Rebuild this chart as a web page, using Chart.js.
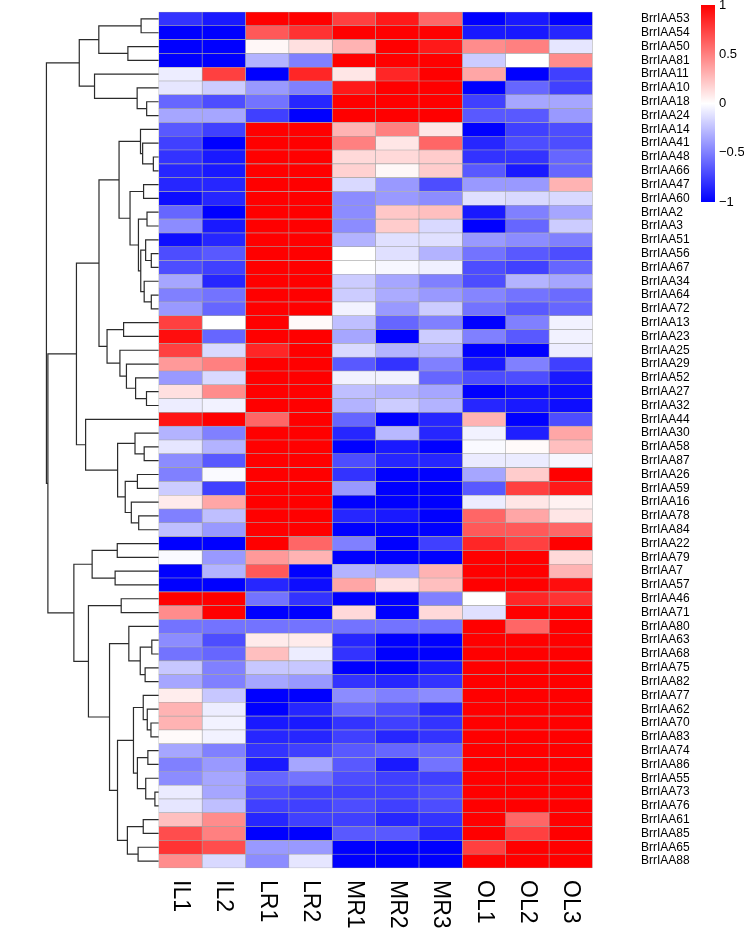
<!DOCTYPE html>
<html lang="en">
<head>
<meta charset="UTF-8">
<title>BrrIAA expression heatmap</title>
<script src="https://cdn.jsdelivr.net/npm/chart.js@4"></script>
<style>
    body { margin: 0; background: #fff; }
    #wrap { position: relative; width: 744px; height: 933px; overflow: hidden; }
    #heat { position: absolute; left: 0; top: 0; }
    #scale { position: absolute; left: 701px; top: 0; }
</style>
</head>
<body>
<div id="wrap">
    <canvas id="heat" width="700" height="933"></canvas>
    <canvas id="scale" width="43" height="215"></canvas>
</div>
<script>
// row labels, top to bottom (dendrogram order)
const genes = ['BrrIAA53','BrrIAA54','BrrIAA50','BrrIAA81','BrrIAA11','BrrIAA10','BrrIAA18','BrrIAA24',
    'BrrIAA14','BrrIAA41','BrrIAA48','BrrIAA66','BrrIAA47','BrrIAA60','BrrIAA2','BrrIAA3','BrrIAA51',
    'BrrIAA56','BrrIAA67','BrrIAA34','BrrIAA64','BrrIAA72','BrrIAA13','BrrIAA23','BrrIAA25','BrrIAA29',
    'BrrIAA52','BrrIAA27','BrrIAA32','BrrIAA44','BrrIAA30','BrrIAA58','BrrIAA87','BrrIAA26','BrrIAA59',
    'BrrIAA16','BrrIAA78','BrrIAA84','BrrIAA22','BrrIAA79','BrrIAA7','BrrIAA57','BrrIAA46','BrrIAA71',
    'BrrIAA80','BrrIAA63','BrrIAA68','BrrIAA75','BrrIAA82','BrrIAA77','BrrIAA62','BrrIAA70','BrrIAA83',
    'BrrIAA74','BrrIAA86','BrrIAA55','BrrIAA73','BrrIAA76','BrrIAA61','BrrIAA85','BrrIAA65','BrrIAA88'];

const samples = ['IL1', 'IL2', 'LR1', 'LR2', 'MR1', 'MR2', 'MR3', 'OL1', 'OL2', 'OL3'];

// scaled expression, one array per sample (same order as genes)
const IL1 = [-0.8,-1,-1,-1,-0.07,-0.1,-0.6,-0.35,-0.65,-0.75, -0.8,-0.85,-0.85,-0.95,-0.6,-0.45,-0.95,-0.7,-0.7,-0.35,
    -0.5,-0.4,0.75,0.95,0.75,0.4,-0.4,0.12,-0.07,0.92, -0.3,-0.1,-0.45,-0.5,-0.2,0.08,-0.5,-0.25,-1,-0.02,
    -1,-1,1,0.45,-0.55,-0.45,-0.55,-0.22,-0.35,0.07, 0.3,0.3,0.02,-0.35,-0.5,-0.45,-0.08,-0.1,0.25,0.7, 0.8,0.45];
const IL2 = [-0.9,-1,-1,-1,0.75,-0.2,-0.7,-0.35,-0.75,-1, -0.9,-0.9,-0.85,-0.85,-1,-0.9,-0.85,-0.65,-0.75,-0.85,
    -0.55,-0.6,0,-0.6,-0.15,0.5,-0.15,0.45,-0.05,1, -0.5,-0.3,-0.65,-0.02,-0.75,0.35,-0.25,-0.4,-1,-0.4,
    -0.3,-1,1,1,-0.55,-0.7,-0.6,-0.5,-0.5,-0.22, -0.07,-0.05,-0.05,-0.5,-0.4,-0.35,-0.35,-0.25,0.45,0.5, 0.7,-0.15];
const LR1 = [1,0.65,0.03,-0.3,-1,-0.4,-0.55,-0.75,1,1, 1,1,1,1,1,1,1,1,1,1,
    1,1,1,1,0.85,1,1,1,1,0.6, 1,1,1,1,1,1,1,1,1,0.4,
    0.65,-0.85,-0.55,-1,-0.55,0.08,0.25,-0.22,-0.35,-1, -1,-0.9,-0.85,-0.8,-0.9,-0.6,-0.7,-0.75,-0.85,-1, -0.4,-0.45];
const LR2 = [1,0.8,0.12,-0.5,0.85,-0.5,-0.85,-1,1,1, 1,1,1,1,1,1,1,1,1,1,
    1,1,0.02,1,1,1,1,1,1,1, 1,1,1,1,1,1,1,1,0.6,0.3,
    -1,-0.95,-0.8,-1,-0.55,0.08,-0.07,-0.22,-0.4,-1, -0.85,-0.9,-0.85,-0.75,-0.35,-0.55,-0.75,-0.75,-0.75,-1, -0.4,-0.1];
const MR1 = [0.75,1,0.3,1,0.1,0.9,1,1,0.3,0.5, 0.15,0.18,-0.15,-0.45,-0.45,-0.45,-0.3,0,0,-0.2,
    -0.2,-0.05,-0.25,-0.35,-0.15,-0.65,-0.05,-0.25,-0.3,-0.6, -0.85,-1,-0.7,-0.8,-0.4,-1,-0.85,-1,-0.5,-1,
    -0.3,0.35,-1,0.15,-0.55,-0.85,-0.8,-1,-0.8,-0.45, -0.6,-0.8,-0.75,-0.65,-0.65,-0.7,-0.75,-0.7,-0.75,-0.65, -1,-1];
const MR2 = [0.9,1,1,1,0.85,1,1,1,0.5,0.1, 0.15,0.03,-0.4,-0.4,0.22,0.2,-0.12,-0.12,-0.03,-0.35,
    -0.33,-0.4,-0.6,-1,-0.3,-0.8,-0.05,-0.3,-0.2,-1, -0.28,-0.9,-0.85,-1,-1,-1,-0.9,-1,-1,-1,
    -0.35,0.12,-1,-1,-0.55,-1,-1,-1,-0.85,-0.5, -0.7,-0.75,-0.85,-0.6,-0.9,-0.75,-0.75,-0.75,-0.85,-0.65, -1,-1];
const MR3 = [0.6,1,0.9,1,1,1,1,1,0.1,0.6, 0.2,0.2,-0.7,-0.45,0.25,-0.15,-0.12,-0.3,-0.06,-0.5,
    -0.4,-0.2,-0.5,-0.2,-0.3,-0.5,-0.6,-0.35,-0.3,-0.85, -0.85,-1,-0.85,-1,-1,-1,-1,-1,-0.75,-1,
    0.3,0.25,-0.5,0.15,-0.55,-1,-1,-0.9,-0.8,-0.45, -0.85,-0.8,-0.8,-0.6,-0.55,-0.75,-0.7,-0.7,-0.8,-0.85, -1,-1];
const OL1 = [-1,-0.9,0.45,-0.2,0.35,-1,-0.75,-0.65,-1,-0.85, -0.8,-0.65,-0.4,-0.12,-0.9,-1,-0.4,-0.55,-0.7,-0.7,
    -0.48,-0.55,-1,-0.5,-1,-0.9,-0.7,-1,-0.85,0.3, -0.05,-0.02,-0.08,-0.35,-0.65,-0.07,0.6,0.65,0.85,1,
    1,1,0,-0.12,1,1,1,1,1,1, 1,1,1,1,1,1,1,1,1,1, 0.75,1];
const OL2 = [-0.9,-0.9,0.5,0,-1,-0.6,-0.35,-0.65,-0.75,-0.7, -0.8,-0.9,-0.4,-0.15,-0.5,-0.6,-0.45,-0.65,-0.75,-0.3,
    -0.55,-0.65,-0.5,-0.65,-1,-0.5,-0.7,-0.95,-0.9,-1, -0.88,0.02,-0.08,0.2,0.75,0.1,0.35,0.65,0.75,1,
    1,1,0.85,1,0.6,1,1,1,1,1, 1,1,1,1,1,1,1,1,0.6,0.75, 1,1];
const OL3 = [-1,-0.85,-0.1,0.45,-0.75,-0.75,-0.35,-0.4,-0.7,-0.7, -0.6,-0.6,0.3,-0.15,-0.35,-0.2,-0.5,-0.7,-0.6,-0.35,
    -0.58,-0.6,-0.05,-0.05,-0.07,-0.75,-0.9,-0.95,-0.95,-0.7, 0.35,0.25,-0.03,1,0.9,0.05,0.1,0.6,1,0.15,
    0.3,0.95,0.8,1,1,1,1,1,1,1, 1,1,1,1,1,1,1,1,1,1, 1,1];

const legendTicks = [1, 0.5, 0, -0.5, -1];

// row clustering: [left, right, height]; numbers are rows, 'mK' is the K-th merge
const merges = [
    [0, 1, 2.06], [2, 3, 3.6], ['m0', 'm1', 6.99], [6, 7, 1.41], [5, 'm3', 2.52],
    [4, 'm4', 7.49], ['m2', 'm5', 9.27], [10, 11, 0.63], [9, 'm7', 1.88], [8, 'm8', 2.13],
    [12, 13, 1.77], [14, 15, 1.37], [17, 18, 0.87], [16, 'm12', 1.53], [20, 21, 0.87],
    [19, 'm14', 1.7], ['m13', 'm15', 2.1], ['m11', 'm16', 2.37], ['m10', 'm17', 3.35], ['m9', 'm18', 4.63],
    [22, 23, 4.1], [27, 28, 1.43], [26, 'm21', 2.7], [25, 'm22', 3.77], [24, 'm23', 4.53],
    ['m20', 'm24', 6.03], ['m19', 'm25', 6.97], [31, 32, 1.7], [30, 'm27', 2.77], [33, 34, 2.49],
    [36, 37, 2.34], [35, 'm30', 3.2], ['m29', 'm31', 3.91], ['m28', 'm32', 4.8], [29, 'm33', 8.53],
    ['m26', 'm34', 9.6], [38, 39, 4.84], [40, 41, 5.09], ['m36', 'm37', 7.77], [42, 43, 4.38],
    [45, 46, 0.81], [47, 48, 1.59], ['m40', 'm41', 2.16], [44, 'm42', 3.49], [51, 52, 0.91],
    [50, 'm44', 1.34], [49, 'm45', 1.81], [53, 54, 1.27], [56, 57, 0.45], [55, 'm48', 1.52],
    ['m47', 'm49', 2.49], ['m46', 'm50', 2.95], [58, 59, 1.81], [60, 61, 2.41], ['m52', 'm53', 3.66],
    ['m51', 'm54', 4.81], ['m43', 'm55', 5.74], ['m39', 'm56', 8.2], ['m38', 'm57', 9.9], ['m35', 'm58', 12.93],
    ['m6', 'm59', 13.1]
];

const DENDRO_COLS = 2.61;   // width of the tree, in heatmap columns
const H_MAX = 13.2;

Chart.defaults.font.family = 'Arial, "Liberation Sans", sans-serif';
Chart.defaults.color = '#000';

function heatColor(v) {
    const t = Math.max(-1, Math.min(1, v));
    if (t >= 0) {
        const c = Math.round(255 * (1 - t));
        return `rgb(255,${c},${c})`;
    }
    const c = Math.round(255 * (1 + t));
    return `rgb(${c},${c},255)`;
}

const columns = [IL1, IL2, LR1, LR2, MR1, MR2, MR3, OL1, OL2, OL3];

const heatSets = columns.map((vals, c) => ({
    type: 'bar',
    indexAxis: 'y',
    label: samples[c],
    data: vals.map((v, i) => ({ x: [c, c + 1], y: i })),
    backgroundColor: vals.map(heatColor),
    borderColor: '#a4a4a4',
    borderWidth: 0.6,
    borderSkipped: false,
    barPercentage: 1,
    categoryPercentage: 1,
    grouped: false
}));

// dendrogram: one bracket per merge
const toX = h => -h / H_MAX * DENDRO_COLS;
const nodes = [];
const nodeOf = ref => typeof ref === 'number' ? { y: ref, h: 0 } : nodes[+ref.slice(1)];

const dendroSets = merges.map(([a, b, h]) => {
    const A = nodeOf(a), B = nodeOf(b);
    nodes.push({ y: (A.y + B.y) / 2, h: h });
    return {
        type: 'line',
        indexAxis: 'x',
        data: [
            { x: toX(A.h), y: A.y }, { x: toX(h), y: A.y },
            { x: toX(h), y: B.y }, { x: toX(B.h), y: B.y }
        ],
        borderColor: '#2b2b2b',
        borderWidth: 1.2,
        pointRadius: 0,
        fill: false,
        tension: 0,
        clip: false
    };
});

// column names under the heatmap, turned clockwise
const sampleLabels = {
    id: 'sampleLabels',
    afterDraw(chart) {
        const { ctx, chartArea, scales: { x } } = chart;
        ctx.save();
        ctx.font = '23px Arial, "Liberation Sans", sans-serif';
        ctx.fillStyle = '#000';
        ctx.textAlign = 'left';
        ctx.textBaseline = 'middle';
        samples.forEach((s, i) => {
            ctx.save();
            ctx.translate(x.getPixelForValue(i + 0.5), chartArea.bottom + 5);
            ctx.rotate(Math.PI / 2);
            ctx.fillText(s, 0, 0);
            ctx.restore();
        });
        ctx.restore();
    }
};

new Chart(document.getElementById('heat'), {
    type: 'bar',
    data: { datasets: [...heatSets, ...dendroSets] },
    options: {
        responsive: false,
        animation: false,
        events: [],
        layout: { padding: { top: 5, bottom: 58, left: 0, right: 0 } },
        plugins: { legend: { display: false }, tooltip: { enabled: false } },
        scales: {
            x: { type: 'linear', display: false, min: -DENDRO_COLS, max: samples.length },
            y: {
                type: 'linear',
                position: 'right',
                reverse: true,
                min: -0.5,
                max: genes.length - 0.5,
                afterBuildTicks: s => { s.ticks = genes.map((g, i) => ({ value: i })); },
                afterFit: s => { s.width = 62; s.paddingTop = 0; s.paddingBottom = 0; },
                ticks: {
                    autoSkip: false,
                    padding: 3,
                    font: { size: 12 },
                    callback: v => genes[v]
                },
                grid: { display: false, drawTicks: false },
                border: { display: false }
            }
        }
    },
    plugins: [sampleLabels]
});

// colour key
new Chart(document.getElementById('scale'), {
    type: 'bar',
    data: {
        labels: [''],
        datasets: [{
            data: [[-1, 1]],
            backgroundColor: ctx => {
                const area = ctx.chart.chartArea;
                if (!area) return '#fff';
                const g = ctx.chart.ctx.createLinearGradient(0, area.bottom, 0, area.top);
                g.addColorStop(0, heatColor(-1));
                g.addColorStop(0.5, heatColor(0));
                g.addColorStop(1, heatColor(1));
                return g;
            },
            borderWidth: 0,
            barPercentage: 1,
            categoryPercentage: 1
        }]
    },
    options: {
        responsive: false,
        animation: false,
        events: [],
        layout: { padding: { top: 5, bottom: 13 } },
        plugins: { legend: { display: false }, tooltip: { enabled: false } },
        scales: {
            x: { display: false },
            y: {
                position: 'right',
                min: -1,
                max: 1,
                afterBuildTicks: s => { s.ticks = legendTicks.map(v => ({ value: v })); },
                afterFit: s => { s.width = 29; s.paddingTop = 0; s.paddingBottom = 0; },
                ticks: {
                    padding: 4,
                    font: { size: 13 },
                    callback: v => v < 0 ? '\u2212' + Math.abs(v) : String(v)
                },
                grid: { display: false, drawTicks: false },
                border: { display: false }
            }
        }
    }
});
</script>
</body>
</html>
